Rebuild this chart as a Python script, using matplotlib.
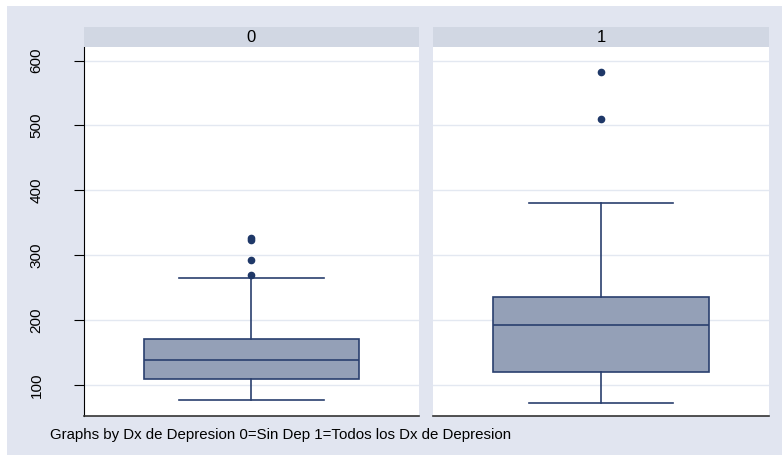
import matplotlib.pyplot as plt
from matplotlib.patches import Rectangle

plt.rcParams['font.family'] = ['Liberation Sans', 'DejaVu Sans']

#-------------------------------
# DATA
#-------------------------------
groups = ["0", "1"]
q1 = [109, 120]
median = [138, 193]
q3 = [171, 236]
whisker_low = [77, 72]
whisker_high = [265, 380]
outliers = [[270, 293, 323, 326], [510, 583]]
yticks = [100, 200, 300, 400, 500, 600]
footer = "Graphs by Dx de Depresion 0=Sin Dep 1=Todos los Dx de Depresion"

#-------------------------------
# COLORS
#-------------------------------
bg = "#e1e5f0"
strip = "#d1d7e3"
box_fill = "#94a0b7"
navy = "#2a3f6e"
dot = "#1f3868"
grid = "#e3e8f1"

W, H = 782, 455
fig = plt.figure(figsize=(W / 100, H / 100), dpi=100, facecolor="white")
fig.patches.append(Rectangle((7 / W, 0), 1, 1 - 6 / H, transform=fig.transFigure,
                             facecolor=bg, edgecolor="none", zorder=-10))

panels = [(84, 419), (433, 769)]
top_px, bot_px, strip_top = 47, 416, 27

for i, (x0, x1) in enumerate(panels):
    ax = fig.add_axes([x0 / W, 1 - bot_px / H, (x1 - x0) / W, (bot_px - top_px) / H])
    ax.set_facecolor("white")
    stats = [{
        "q1": q1[i], "med": median[i], "q3": q3[i],
        "whislo": whisker_low[i], "whishi": whisker_high[i],
        "fliers": outliers[i],
    }]
    ax.bxp(stats, positions=[0], widths=0.64, patch_artist=True,
           boxprops=dict(facecolor=box_fill, edgecolor=navy, linewidth=1.2),
           medianprops=dict(color=navy, linewidth=1.2),
           whiskerprops=dict(color=navy, linewidth=1.2),
           capprops=dict(color=navy, linewidth=1.2),
           capwidths=0.43,
           flierprops=dict(marker="o", markerfacecolor=dot, markeredgecolor=dot, markersize=4.5))
    ax.set_xlim(-0.5, 0.5)
    ax.set_ylim(52, 621)
    ax.set_yticks(yticks)
    ax.yaxis.grid(True, color=grid, linewidth=1.0)
    ax.set_axisbelow(True)
    ax.set_xticks([])
    for s in ["top", "right"]:
        ax.spines[s].set_visible(False)
    ax.spines["bottom"].set_color("#333333")
    ax.spines["bottom"].set_linewidth(1.2)
    if i == 0:
        ax.spines["left"].set_color("black")
        ax.tick_params(axis="y", length=7, color="black", labelsize=11, pad=22)
        for lab in ax.get_yticklabels():
            lab.set_rotation(90)
            lab.set_va("center")
    else:
        ax.spines["left"].set_visible(False)
        ax.tick_params(axis="y", length=0, labelleft=False)

    # strip header
    sx = fig.add_axes([x0 / W, 1 - top_px / H, (x1 - x0) / W, (top_px - strip_top) / H])
    sx.set_facecolor(strip)
    sx.set_xticks([])
    sx.set_yticks([])
    for s in sx.spines.values():
        s.set_visible(False)
    sx.text(0.5, 0.5, groups[i], ha="center", va="center", fontsize=12,
            transform=sx.transAxes)

fig.text(50 / W, 1 - 435 / H, footer, fontsize=10.8, va="center", ha="left")

fig.savefig("out.png", dpi=100, facecolor="white")
